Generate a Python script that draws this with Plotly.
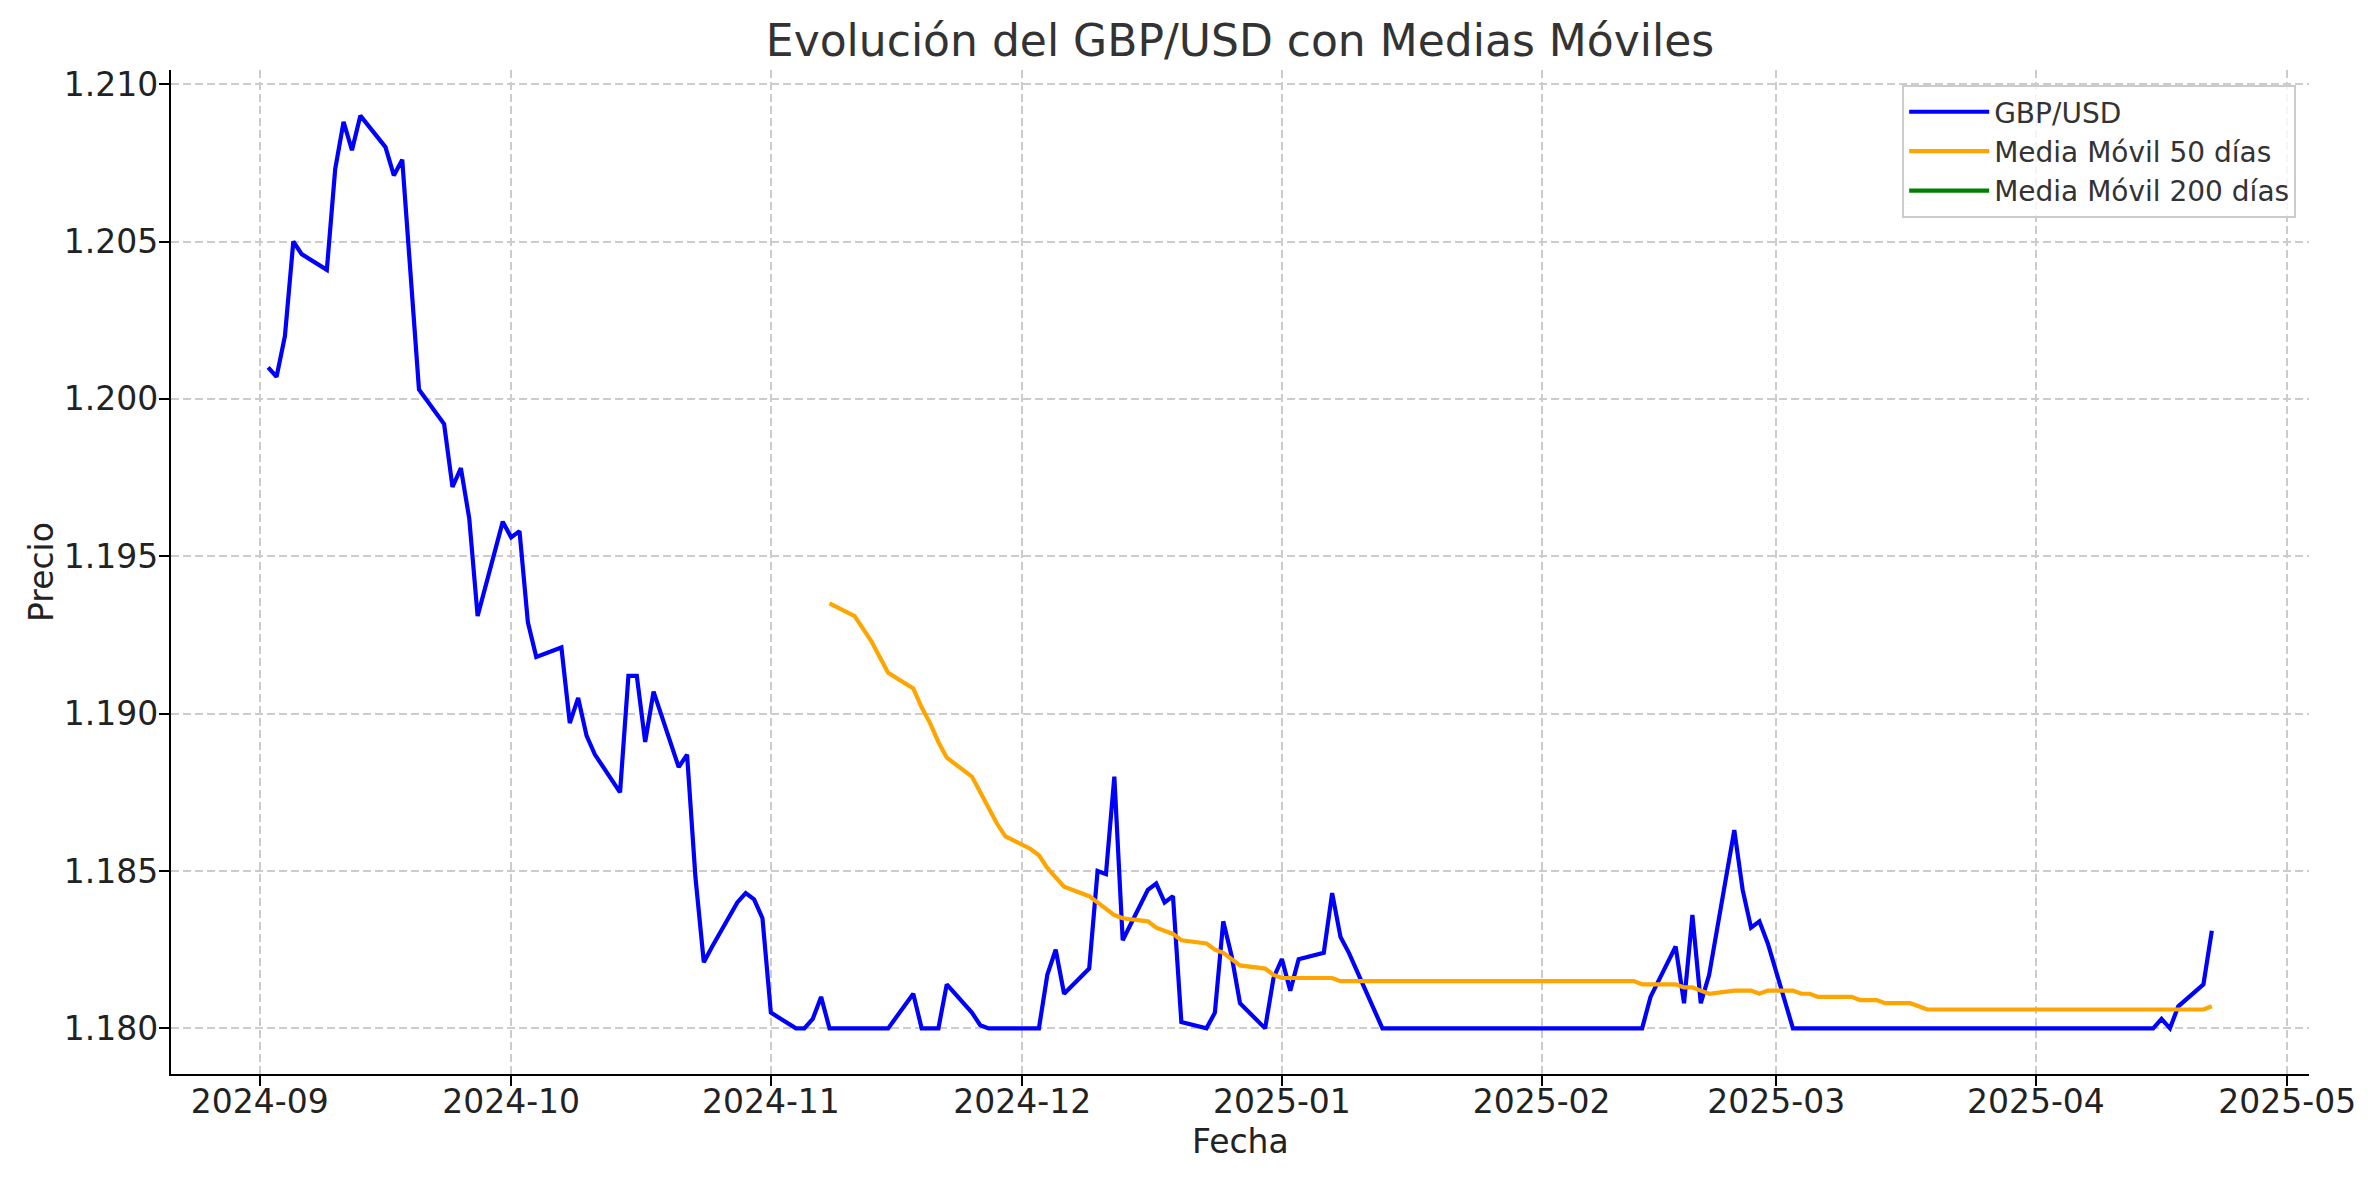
import pandas as pd
import plotly.graph_objects as go

# GBP/USD close, one value per business day
sep_2024 = [1.2010, 1.2007, 1.2020, 1.2050, 1.2046, 1.2041, 1.2073, 1.2088, 1.2079, 1.2090,
            1.2080, 1.2071, 1.2076, 1.2040, 1.2003, 1.1992, 1.1972, 1.1978, 1.1962, 1.1931,
            1.1961]
oct_2024 = [1.1956, 1.1958, 1.1929, 1.1918, 1.1921, 1.1897, 1.1905, 1.1893, 1.1887, 1.1875,
            1.1912, 1.1912, 1.1891, 1.1907, 1.1883, 1.1887, 1.1848, 1.1821, 1.1826, 1.1840,
            1.1843, 1.1841, 1.1835]
nov_2024 = [1.1805, 1.1800, 1.1800, 1.1803, 1.1810, 1.1800, 1.1800, 1.1800, 1.1800, 1.1800,
            1.1800, 1.1811, 1.1800, 1.1800, 1.1800, 1.1814, 1.1805, 1.1801, 1.1800, 1.1800,
            1.1800]
dec_2024 = [1.1800, 1.1800, 1.1817, 1.1825, 1.1811, 1.1819, 1.1850, 1.1849, 1.1880, 1.1828,
            1.1844, 1.1846, 1.1840, 1.1842, 1.1802, 1.1800, 1.1805, 1.1834, 1.1823, 1.1808,
            1.1800, 1.1816]
jan_2025 = [1.1822, 1.1812, 1.1822, 1.1824, 1.1843, 1.1829, 1.1824, 1.1818, 1.1800, 1.1800,
            1.1800, 1.1800, 1.1800, 1.1800, 1.1800, 1.1800, 1.1800, 1.1800, 1.1800, 1.1800,
            1.1800, 1.1800, 1.1800]
feb_2025 = [1.1800, 1.1800, 1.1800, 1.1800, 1.1800, 1.1800, 1.1800, 1.1800, 1.1800, 1.1810,
            1.1826, 1.1808, 1.1836, 1.1808, 1.1817, 1.1863, 1.1844, 1.1832, 1.1834, 1.1827]
mar_2025 = [1.1800, 1.1800, 1.1800, 1.1800, 1.1800, 1.1800, 1.1800, 1.1800, 1.1800, 1.1800,
            1.1800, 1.1800, 1.1800, 1.1800, 1.1800, 1.1800, 1.1800, 1.1800, 1.1800, 1.1800,
            1.1800]
apr_2025 = [1.1800, 1.1800, 1.1800, 1.1800, 1.1800, 1.1800, 1.1800, 1.1800, 1.1800, 1.1800,
            1.1800, 1.1803, 1.1800, 1.1807, 1.1814, 1.1831]

# 50-day moving average, starts on 2024-11-08
ma50_values = [1.1935, 1.1931, 1.1927, 1.1923, 1.1918, 1.1913, 1.1908, 1.1902, 1.1897, 1.1891,
               1.1886, 1.1880, 1.1875, 1.1870, 1.1865, 1.1861,
               1.1857, 1.1855, 1.1851, 1.1848, 1.1845, 1.1842, 1.1840, 1.1838, 1.1836, 1.1835,
               1.1834, 1.1832, 1.1831, 1.1830, 1.1828, 1.1827, 1.1825, 1.1824, 1.1822, 1.1820,
               1.1819, 1.1817,
               1.1816, 1.1816, 1.1816, 1.1816, 1.1816, 1.1815, 1.1815, 1.1815, 1.1815, 1.1815,
               1.1815, 1.1815, 1.1815, 1.1815, 1.1815, 1.1815, 1.1815, 1.1815, 1.1815, 1.1815,
               1.1815, 1.1815, 1.1815,
               1.1815, 1.1815, 1.1815, 1.1815, 1.1815, 1.1815, 1.1815, 1.1815, 1.1814, 1.1814,
               1.1814, 1.1813, 1.1813, 1.1812, 1.1811, 1.1812, 1.1812, 1.1812, 1.1811, 1.1812,
               1.1812, 1.1811, 1.1811, 1.1810, 1.1810, 1.1810, 1.1809, 1.1809, 1.1809, 1.1808,
               1.1808, 1.1807, 1.1806, 1.1806, 1.1806, 1.1806, 1.1806, 1.1806, 1.1806, 1.1806,
               1.1806,
               1.1806, 1.1806, 1.1806, 1.1806, 1.1806, 1.1806, 1.1806, 1.1806, 1.1806, 1.1806,
               1.1806, 1.1806, 1.1806, 1.1806, 1.1806, 1.1807, 1.1807]
ma50_start = "2024-11-08"

series_names = ["GBP/USD", "Media Móvil 50 días", "Media Móvil 200 días"]
series_colors = ["blue", "orange", "green"]

if __name__ == "__main__":
    dates = pd.bdate_range("2024-09-02", "2025-04-22")
    price = sep_2024 + oct_2024 + nov_2024 + dec_2024 + jan_2025 + feb_2025 + mar_2025 + apr_2025
    ma_dates = dates[dates >= ma50_start]
    # not enough history for a 200-day window -> no points drawn
    ma200 = [None] * len(dates)

    fig = go.Figure()
    fig.add_trace(go.Scatter(x=dates, y=price, mode="lines", name=series_names[0],
                             line=dict(color=series_colors[0], width=4.2)))
    fig.add_trace(go.Scatter(x=ma_dates, y=ma50_values, mode="lines", name=series_names[1],
                             line=dict(color=series_colors[1], width=4.2)))
    fig.add_trace(go.Scatter(x=dates, y=ma200, mode="lines", name=series_names[2],
                             line=dict(color=series_colors[2], width=4.2)))

    axis_style = dict(
        showline=True, linecolor="#000000", linewidth=2.2, mirror=False,
        ticks="outside", ticklen=10, tickwidth=2.2, tickcolor="#000000",
        showgrid=True, gridcolor="#cccccc", gridwidth=1.6, griddash="8px,4px",
        zeroline=False, tickfont=dict(size=33, color="#222222"),
        title_font=dict(size=33, color="#222222"),
    )

    fig.update_layout(
        width=2377, height=1180,
        paper_bgcolor="white", plot_bgcolor="white",
        font=dict(family="DejaVu Sans", color="#333333"),
        margin=dict(l=171, r=68, t=70, b=106),
        title=dict(text="Evolución del GBP/USD con Medias Móviles",
                   x=0.5, xref="paper", y=1 - 41 / 1180, yref="container",
                   xanchor="center", yanchor="middle",
                   font=dict(size=44, color="#333333")),
        legend=dict(x=0.994, y=0.985, xanchor="right", yanchor="top",
                    bgcolor="rgba(255,255,255,0.8)", bordercolor="#cccccc", borderwidth=2,
                    itemwidth=80,
                    font=dict(size=28, color="#333333")),
        showlegend=True,
    )
    # x title as an annotation so it can sit a bit closer to the tick labels
    fig.add_annotation(text="Fecha", xref="paper", yref="paper", x=0.5, y=-0.067,
                       xanchor="center", yanchor="middle", showarrow=False,
                       font=dict(size=33, color="#222222"))
    fig.update_xaxes(axis_style, ticklabelstandoff=-13,
                     range=["2024-08-21 09:36", "2025-05-03 14:24"],
                     tickformat="%Y-%m", dtick="M1", tick0="2024-09-01")
    fig.update_yaxes(axis_style, ticklabelstandoff=-6,
                     title_text="Precio", title_standoff=0,
                     range=[1.17855, 1.21045], tickformat=".3f", dtick=0.005, tick0=1.18)

    fig.write_html("out.html", config={"displayModeBar": False},
                   post_script="document.body.style.margin='0';")
